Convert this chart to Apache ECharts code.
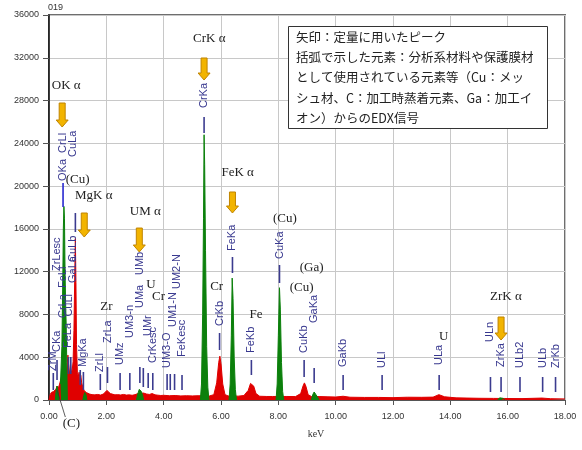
<!DOCTYPE html>
<html>
<head>
<meta charset="utf-8">
<script src="https://cdn.jsdelivr.net/npm/echarts@6/dist/echarts.min.js"></script>
<style>
  html, body { margin: 0; padding: 0; background: #fff; }
  #chart { width: 582px; height: 450px; }
</style>
</head>
<body>
<div id="chart"></div>
<script>
// spectrum (keV, counts) - red = whole spectrum, green = quantified peak windows
var redKeV = [0.00, 0.04, 0.08, 0.12, 0.16, 0.20, 0.24, 0.28, 0.32, 0.36, 0.40, 0.44, 0.48, 0.52, 0.56, 0.60, 0.63, 0.66, 0.69, 0.72, 0.75, 0.78, 0.81, 0.84, 0.87, 0.90, 0.92, 0.94, 0.96, 0.99, 1.02, 1.05, 1.08, 1.11, 1.14, 1.18, 1.22, 1.26, 1.30, 1.36, 1.42, 1.50,
  1.60, 1.70, 1.80, 1.90, 1.96, 2.02, 2.08, 2.14, 2.20, 2.30, 2.40, 2.50, 2.60, 2.70, 2.80, 2.90, 3.00, 3.10, 3.30, 3.40, 3.50, 3.60, 3.70, 3.80, 3.90, 4.00, 4.20, 4.40, 4.60, 4.80, 5.00, 5.20,
  5.60, 5.75, 5.85, 5.92, 5.96, 6.00, 6.06, 6.14, 6.25, 6.60, 6.80, 6.95, 7.03, 7.08, 7.14, 7.22, 7.35, 7.60, 7.80,
  8.30, 8.60, 8.78, 8.86, 8.91, 8.96, 9.04, 9.15, 9.45, 9.70, 10.00, 10.26, 10.50, 11.00, 11.50, 12.00, 12.50, 13.00, 13.40, 13.60, 13.80, 14.20, 15.00, 15.50, 16.50, 17.20, 17.50, 18.00];
var redCounts = [0, 500, 700, 650, 800, 750, 1000, 1300, 1100, 1400, 1800, 2200, 2600, 3000, 2600, 2400, 3200, 4200, 3000, 2400, 3400, 2600, 2800, 3600, 6500, 12000, 15100, 11000, 5200, 2600, 2200, 2600, 1900, 2300, 1600, 1200, 900, 800, 700, 600, 550, 500,
  480, 520, 460, 560, 700, 900, 800, 600, 520, 480, 500, 470, 520, 460, 480, 440, 500, 600, 650, 560, 520, 600, 480, 450, 420, 440, 400, 420, 380, 400, 380, 400,
  380, 500, 1600, 3500, 4100, 3400, 1500, 500, 380, 360, 420, 900, 1550, 1700, 1300, 600, 350, 330, 330,
  330, 320, 600, 1300, 1600, 1300, 500, 330, 320, 300, 280, 350, 260, 240, 240, 220, 260, 250, 270, 500, 300, 200, 160, 150, 130, 180, 120, 100];

var greenKeV = [0.22, 0.25, 0.28, 0.31, 0.34, 0.37,
  0.40, 0.42, 0.45, 0.48, 0.50, 0.52, 0.54, 0.56, 0.58, 0.60, 0.62, 0.64, 0.70,
  1.18, 1.21, 1.25, 1.29, 1.32, 2.00,
  3.05, 3.10, 3.15, 3.18, 3.22, 3.27, 3.30, 4.00,
  5.28, 5.32, 5.36, 5.39, 5.41, 5.43, 5.46, 5.50, 5.54, 5.58, 6.00,
  6.28, 6.32, 6.36, 6.39, 6.42, 6.46, 6.50, 6.54, 7.00,
  7.92, 7.96, 8.00, 8.04, 8.07, 8.11, 8.15, 8.19, 8.50,
  9.15, 9.20, 9.25, 9.30, 9.36, 9.42, 12.00,
  15.65, 15.72, 15.78, 15.85, 15.90];
var greenCounts = [0, 900, 1300, 900, 0, '-',
  1500, 1500, 5000, 11000, 16000, 18100, 17000, 12000, 9000, 7000, 3500, 0, '-',
  0, 400, 700, 500, 0, '-',
  0, 600, 1000, 1100, 800, 400, 0, '-',
  0, 1500, 8000, 17000, 24800, 22000, 14000, 5000, 1200, 0, '-',
  0, 1500, 6000, 11400, 9500, 4000, 1000, 0, '-',
  0, 1500, 6000, 10500, 8500, 3500, 800, 0, '-',
  0, 500, 750, 600, 300, 0, '-',
  0, 200, 250, 150, 0];

// x-ray line markers: energy, label, marker line range and label base (counts)
var markerKeV = [0.15, 0.28, 0.29, 0.49, 0.49, 0.85, 0.92, 0.50, 0.50, 0.66, 0.70, 0.68, 0.76, 0.85, 0.85, 1.20, 1.09,
  1.79, 2.04, 2.48, 2.82, 3.17, 3.18, 3.29, 3.45, 3.62, 3.46, 4.12, 4.33, 4.23, 4.47, 4.38, 4.64,
  5.41, 5.95, 6.40, 7.06, 8.04, 8.90, 9.25, 10.26, 11.62, 13.61, 15.40, 15.77, 16.43, 17.22, 17.67];
var markerText = ['ZrM', 'CKa', 'ZrLesc', 'OKa', 'CrLl', 'CuLa', '', 'CrLa', 'FeLl', 'FeLa', 'CuLl', '', '', 'GaLa', 'CuLb', 'MgKa', '',
  'ZrLl', 'ZrLa', 'UMz', 'UM3-n', 'UMa', 'UMb', '', 'UMr', 'CrKesc', '', 'UM3-O', 'UM1-N', '', 'UM2-N', '', 'FeKesc',
  'CrKa', 'CrKb', 'FeKa', 'FeKb', 'CuKa', 'CuKb', 'GaKa', 'GaKb', 'ULl', 'ULa', 'ULn', 'ZrKa', 'ULb2', 'ULb', 'ZrKb'];
var markerLineLo = [935, 1870, 0, 18046, 0, 0, 15708, 0, 0, 0, 0, 2431, 2431, 0, 0, 935, 1400,
  935, 1590, 935, 935, 1590, 0, 1215, 0, 935, 1122, 935, 0, 935, 0, 935, 935,
  24965, 4675, 11875, 2338, 10940, 2150, 1590, 935, 935, 935, 748, 748, 748, 748, 748];
var markerLineHi = [2525, 3740, 0, 20290, 0, 0, 17485, 0, 0, 0, 0, 4021, 4021, 0, 0, 2618, 2805,
  2431, 3086, 2525, 2525, 3086, 0, 2992, 0, 2525, 2525, 2431, 0, 2431, 0, 2431, 2338,
  26461, 6265, 13371, 3740, 12623, 3740, 2992, 2338, 2338, 2338, 2150, 2150, 2150, 2150, 2150];
var markerTextLo = [2712, 4488, 12060, 20477, 23095, 22720, 0, 7667, 10472, 4862, 7800, 0, 0, 10940, 12900, 3086, 0,
  2618, 5330, 3273, 5797, 8602, 11688, 0, 5984, 3460, 0, 2992, 6826, 0, 10380, 0, 4021,
  27302, 6919, 13932, 4395, 13184, 4395, 7200, 3086, 2992, 3273, 5423, 3086, 2992, 2992, 2992];

// arrows for the quantified peaks (keV, top, tip in counts)
var arrowKeV = [0.46, 1.23, 3.15, 5.41, 6.40, 15.77];
var arrowTop = [27770, 17485, 16080, 31980, 19450, 7760];
var arrowTip = [25525, 15240, 13840, 29920, 17485, 5610];

// element notes
var noteKeV = [0.60, 1.00, 1.56, 3.36, 3.56, 3.82, 2.00, 5.59, 6.58, 8.23, 9.16, 8.81, 5.85, 7.22, 13.77, 15.94, 0.78];
var noteCounts = [29360, 20570, 19070, 17580, 10750, 9630, 8700, 33750, 21220, 16920, 12340, 10470, 10570, 7950, 5890, 9630, -2244];
var noteText = ['OK α', '(Cu)', 'MgK α', 'UM α', 'U', 'Cr', 'Zr', 'CrK α', 'FeK α', '(Cu)', '(Ga)', '(Cu)', 'Cr', 'Fe', 'U', 'ZrK α', '(C)'];
var leaderKeV = [0.28, 0.57];
var leaderCounts = [935, -1590];

var boxLines = [
  '矢印：定量に用いたピーク',
  '括弧で示した元素：分析系材料や保護膜材',
  'として使用されている元素等（Cu：メッ',
  'シュ材、C：加工時蒸着元素、Ga：加工イ',
  'オン）からのEDX信号'
];

var chart = echarts.init(document.getElementById('chart'));

function pairs(xs, ys) {
  return xs.map(function (x, i) { return [x, ys[i]]; });
}

function renderMarker(params, api) {
  var i = params.dataIndex;
  var k = markerKeV[i];
  var kids = [];
  if (markerLineHi[i] > markerLineLo[i]) {
    var a = api.coord([k, markerLineLo[i]]);
    var b = api.coord([k, markerLineHi[i]]);
    kids.push({
      type: 'line',
      shape: { x1: a[0], y1: a[1], x2: b[0], y2: b[1] },
      style: { stroke: markerText[i] === 'OKa' ? '#2828d0' : '#3b3b8f', lineWidth: 1.6 }
    });
  }
  if (markerText[i]) {
    var t = api.coord([k, markerTextLo[i]]);
    kids.push({
      type: 'text',
      x: t[0],
      y: t[1],
      rotation: Math.PI / 2,
      style: {
        text: markerText[i],
        x: 0, y: 0,
        align: 'left',
        verticalAlign: 'middle',
        fill: '#38388f',
        font: '11px "Liberation Sans", Arial, sans-serif'
      }
    });
  }
  return { type: 'group', children: kids };
}

function renderArrow(params, api) {
  var i = params.dataIndex;
  var top = api.coord([arrowKeV[i], arrowTop[i]]);
  var tip = api.coord([arrowKeV[i], arrowTip[i]]);
  var x = top[0], y0 = top[1], y1 = tip[1];
  var h = 7;
  return {
    type: 'polygon',
    shape: {
      points: [[x - 3, y0], [x + 3, y0], [x + 3, y1 - h], [x + 6, y1 - h], [x, y1], [x - 6, y1 - h], [x - 3, y1 - h]]
    },
    style: { fill: '#f2b400', stroke: '#c08400', lineWidth: 1 }
  };
}

function renderNote(params, api) {
  var i = params.dataIndex;
  var p = api.coord([noteKeV[i], noteCounts[i]]);
  return {
    type: 'text',
    x: p[0],
    y: p[1],
    style: {
      text: noteText[i],
      align: 'center',
      verticalAlign: 'middle',
      fill: '#222',
      font: '13px "Liberation Serif", "Times New Roman", serif'
    }
  };
}

var boxGraphic = [{
  type: 'rect',
  left: 288, top: 26,
  shape: { width: 259, height: 102 },
  style: { fill: '#fff', stroke: '#333', lineWidth: 1 },
  z: 100
}];
boxLines.forEach(function (s, i) {
  boxGraphic.push({
    type: 'text',
    left: 296,
    top: 31 + i * 20.2,
    style: { text: s, fill: '#222', font: '12.5px "Noto Sans CJK JP", sans-serif' },
    z: 101
  });
});
boxGraphic.push({
  type: 'text', left: 48, top: 3,
  style: { text: '019', fill: '#333', font: '9px "Liberation Sans", Arial, sans-serif' }
});

chart.setOption({
  animation: false,
  backgroundColor: '#fff',
  grid: {
    left: 49, right: 17, top: 15, bottom: 50,
    outerBoundsMode: 'none',
    containLabel: false,
    show: true,
    borderColor: '#6e6e6e',
    borderWidth: 2
  },
  xAxis: {
    type: 'value',
    min: 0, max: 18, interval: 2,
    name: 'keV',
    nameLocation: 'middle',
    nameGap: 29,
    nameTextStyle: { color: '#333', fontSize: 10, fontFamily: 'Liberation Serif', padding: [0, 0, 0, 18] },
    axisLine: { lineStyle: { color: '#555', width: 1 } },
    axisTick: { show: true, length: 5, lineStyle: { color: '#555' } },
    axisLabel: {
      color: '#333', fontSize: 9, fontFamily: 'Liberation Sans', margin: 12,
      formatter: function (v) { return v.toFixed(2); }
    },
    splitLine: { show: true, lineStyle: { color: '#c8c8c8', width: 1 } }
  },
  yAxis: {
    type: 'value',
    min: 0, max: 36000, interval: 4000,
    name: 'Counts',
    nameLocation: 'middle',
    nameGap: 32,
    nameTextStyle: { color: '#333', fontSize: 11, fontFamily: 'Liberation Serif' },
    axisLine: { show: true, lineStyle: { color: '#111', width: 1.5 } },
    axisTick: { show: true, length: 6, lineStyle: { color: '#555' } },
    axisLabel: {
      color: '#333', fontSize: 9, fontFamily: 'Liberation Sans', margin: 10,
      formatter: function (v) { return String(v); }
    },
    splitLine: { show: true, lineStyle: { color: '#c8c8c8', width: 1 } }
  },
  graphic: boxGraphic,
  series: [
    {
      name: 'spectrum',
      type: 'line',
      data: pairs(redKeV, redCounts),
      symbol: 'none',
      lineStyle: { color: '#e00000', width: 1 },
      areaStyle: { color: '#e00000', opacity: 1 },
      z: 2
    },
    {
      name: 'peaks',
      type: 'line',
      data: pairs(greenKeV, greenCounts),
      symbol: 'none',
      connectNulls: false,
      lineStyle: { color: '#0c800c', width: 1 },
      areaStyle: { color: '#0c800c', opacity: 1 },
      z: 3
    },
    {
      name: 'leader',
      type: 'line',
      data: pairs(leaderKeV, leaderCounts),
      symbol: 'none',
      clip: false,
      lineStyle: { color: '#333', width: 0.8 },
      z: 4
    },
    {
      name: 'markers',
      type: 'custom',
      renderItem: renderMarker,
      data: pairs(markerKeV, markerLineLo),
      encode: { x: 0, y: 1 },
      clip: false,
      z: 5
    },
    {
      name: 'arrows',
      type: 'custom',
      renderItem: renderArrow,
      data: pairs(arrowKeV, arrowTop),
      encode: { x: 0, y: 1 },
      z: 6
    },
    {
      name: 'notes',
      type: 'custom',
      renderItem: renderNote,
      data: pairs(noteKeV, noteCounts),
      encode: { x: 0, y: 1 },
      clip: false,
      z: 6
    }
  ]
});
</script>
</body>
</html>
